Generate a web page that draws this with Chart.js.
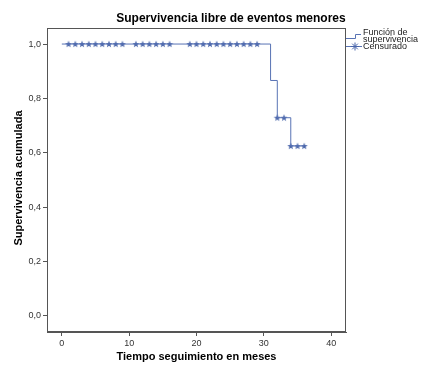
<!DOCTYPE html>
<html>
<head>
<meta charset="utf-8">
<script src="https://cdn.jsdelivr.net/npm/chart.js@4.4.1/dist/chart.umd.min.js"></script>
<style>
    html, body { margin: 0; padding: 0; background: #fff; }
    #wrap { width: 425px; height: 377px; position: relative; }
</style>
</head>
<body>
<div id="wrap"><canvas id="km"></canvas></div>
<script>
// Curva de Kaplan-Meier (escalones) y casos censurados
const stepTimes = [0, 31, 32, 34, 36];
const stepSurvival = [1.0, 0.866, 0.729, 0.625, 0.625];

const censorTimes = [1, 2, 3, 4, 5, 6, 7, 8, 9, 11, 12, 13, 14, 15, 16,
    19, 20, 21, 22, 23, 24, 25, 26, 27, 28, 29, 32, 33, 34, 35, 36];
const censorSurvival = [1, 1, 1, 1, 1, 1, 1, 1, 1, 1, 1, 1, 1, 1, 1,
    1, 1, 1, 1, 1, 1, 1, 1, 1, 1, 1, 0.729, 0.729, 0.625, 0.625, 0.625];

const xTicks = [0, 10, 20, 30, 40];
const yTicks = [0, 0.2, 0.4, 0.6, 0.8, 1.0];

const chartTitle = 'Supervivencia libre de eventos menores';
const xTitle = 'Tiempo seguimiento en meses';
const yTitle = 'Supervivencia acumulada';
const legendLabels = [['Función de', 'supervivencia'], ['Censurado']];

const lineColor = '#5873b4';
const markColor = '#4965aa';
const axisColor = '#555';
const FONT = '"Liberation Sans", Arial, sans-serif';

// estrella de 5 puntas para los censurados
const drawStar = (ctx, cx, cy, rOut, rIn) => {
    ctx.beginPath();
    for (let i = 0; i < 10; i++) {
        const r = i % 2 === 0 ? rOut : rIn;
        const ang = -Math.PI / 2 + i * Math.PI / 5;
        const px = cx + r * Math.cos(ang);
        const py = cy + r * Math.sin(ang);
        if (i === 0) ctx.moveTo(px, py); else ctx.lineTo(px, py);
    }
    ctx.closePath();
    ctx.fill();
};

const starImg = document.createElement('canvas');
starImg.width = 8;
starImg.height = 8;
(() => {
    const c = starImg.getContext('2d');
    c.fillStyle = markColor;
    drawStar(c, 4, 4.3, 3.7, 1.5);
})();

const textPlugin = {
    id: 'spssText',
    afterDraw: (chart) => {
        const ctx = chart.ctx;
        const a = chart.chartArea;
        ctx.save();

        // marco del área de gráfico
        ctx.strokeStyle = axisColor;
        ctx.lineWidth = 1;
        ctx.strokeRect(Math.round(a.left) + 0.5, Math.round(a.top) + 0.5,
            Math.round(a.right - a.left) - 1, Math.round(a.bottom - a.top) - 1);

        ctx.fillStyle = '#000';
        ctx.textAlign = 'center';
        ctx.textBaseline = 'middle';
        ctx.font = 'bold 12px ' + FONT;
        ctx.fillText(chartTitle, 231, 19);

        ctx.font = 'bold 11px ' + FONT;
        ctx.fillText(xTitle, (a.left + a.right) / 2, 357);

        ctx.save();
        ctx.translate(19, (a.top + a.bottom) / 2 - 2);
        ctx.rotate(-Math.PI / 2);
        ctx.fillText(yTitle, 0, 0);
        ctx.restore();

        // leyenda
        const lx = a.right;
        ctx.strokeStyle = lineColor;
        ctx.lineWidth = 1;
        ctx.beginPath();
        ctx.moveTo(lx, 38.5);
        ctx.lineTo(355.5, 38.5);
        ctx.lineTo(355.5, 34.5);
        ctx.lineTo(361, 34.5);
        ctx.stroke();

        ctx.beginPath();
        ctx.moveTo(lx, 46.5);
        ctx.lineTo(362, 46.5);
        ctx.stroke();
        ctx.strokeStyle = markColor;
        const sx = 355, sy = 46.5, r = 4;
        ctx.beginPath();
        for (let i = 0; i < 4; i++) {
            const ang = i * Math.PI / 4;
            ctx.moveTo(sx - r * Math.cos(ang), sy - r * Math.sin(ang));
            ctx.lineTo(sx + r * Math.cos(ang), sy + r * Math.sin(ang));
        }
        ctx.stroke();

        ctx.fillStyle = '#222';
        ctx.textAlign = 'left';
        ctx.font = '9px ' + FONT;
        ctx.fillText(legendLabels[0][0], 363, 32.5);
        ctx.fillText(legendLabels[0][1], 363, 39.5);
        ctx.fillText(legendLabels[1][0], 363, 47);

        ctx.restore();
    }
};

const config = {
    type: 'line',
    data: {
        datasets: [
            {
                label: legendLabels[0].join(' '),
                data: stepTimes.map((t, i) => ({ x: t, y: stepSurvival[i] })),
                borderColor: lineColor,
                borderWidth: 1,
                stepped: 'before',
                pointRadius: 0,
                fill: false
            },
            {
                label: legendLabels[1][0],
                data: censorTimes.map((t, i) => ({ x: t, y: censorSurvival[i] })),
                showLine: false,
                pointStyle: starImg,
                pointRadius: 4
            }
        ]
    },
    options: {
        responsive: true,
        maintainAspectRatio: false,
        animation: false,
        events: [],
        layout: {
            padding: { top: 28, right: 79, left: 0, bottom: 0 }
        },
        plugins: {
            legend: { display: false },
            title: { display: false },
            tooltip: { enabled: false }
        },
        scales: {
            x: {
                type: 'linear',
                min: -2.2,
                max: 42.2,
                afterBuildTicks: (scale) => { scale.ticks = xTicks.map(v => ({ value: v })); },
                afterFit: (scale) => { scale.height = 45; },
                grid: { display: true, drawOnChartArea: false, drawTicks: true, tickLength: 4, color: axisColor },
                border: { display: true, color: axisColor },
                ticks: {
                    color: '#333',
                    font: { family: FONT, size: 9 },
                    padding: 2,
                    maxRotation: 0
                }
            },
            y: {
                type: 'linear',
                min: -0.059,
                max: 1.059,
                afterBuildTicks: (scale) => { scale.ticks = yTicks.map(v => ({ value: v })); },
                afterFit: (scale) => { scale.width = 47; },
                grid: { display: true, drawOnChartArea: false, drawTicks: true, tickLength: 4, color: axisColor },
                border: { display: true, color: axisColor },
                ticks: {
                    color: '#333',
                    font: { family: FONT, size: 9 },
                    padding: 2,
                    callback: (value) => value.toFixed(1).replace('.', ',')
                }
            }
        }
    },
    plugins: [textPlugin]
};

new Chart(document.getElementById('km'), config);
</script>
</body>
</html>
